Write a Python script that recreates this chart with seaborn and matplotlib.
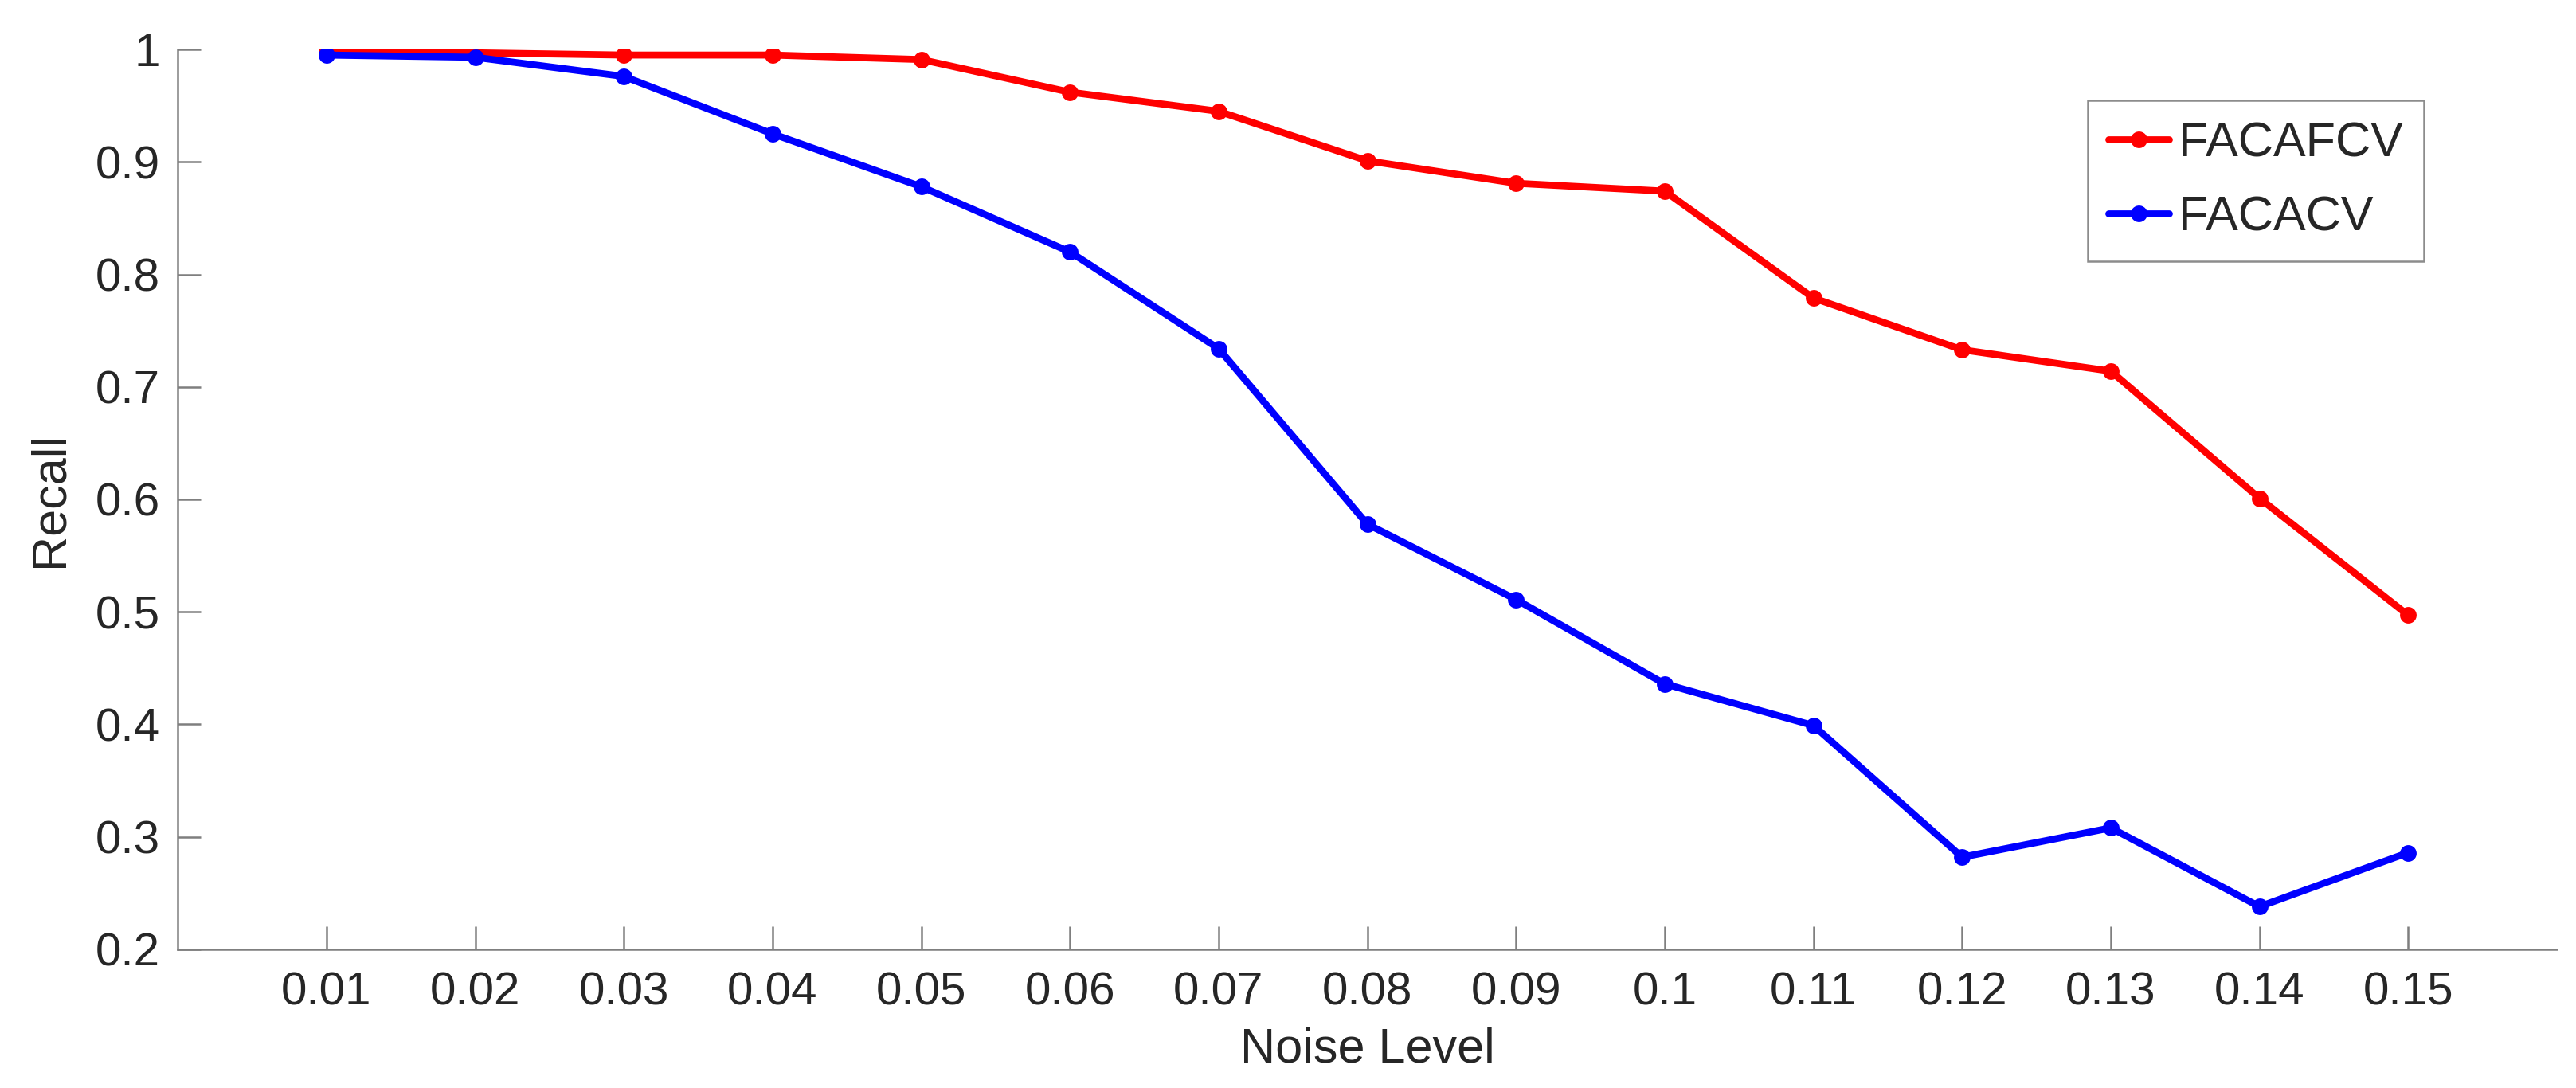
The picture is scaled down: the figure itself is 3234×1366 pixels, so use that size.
import numpy as np
import pandas as pd
import matplotlib
matplotlib.use("Agg")
import matplotlib.pyplot as plt
import seaborn as sns

# Данные
noise_levels = [0.01, 0.02, 0.03, 0.04, 0.05, 0.06, 0.07, 0.08,
                0.09, 0.10, 0.11, 0.12, 0.13, 0.14, 0.15]
tick_labels = ["0.01", "0.02", "0.03", "0.04", "0.05", "0.06", "0.07", "0.08",
               "0.09", "0.1", "0.11", "0.12", "0.13", "0.14", "0.15"]
recall_facafcv = [0.998, 0.997, 0.995, 0.995, 0.991, 0.962, 0.945, 0.901,
                  0.881, 0.874, 0.779, 0.733, 0.714, 0.601, 0.497]
recall_facacv = [0.995, 0.993, 0.976, 0.925, 0.878, 0.820, 0.734, 0.578,
                 0.511, 0.436, 0.399, 0.282, 0.308, 0.238, 0.286]
methods = ["FACAFCV", "FACACV"]
colors = {"FACAFCV": "#ff0000", "FACACV": "#0000ff"}

# Таблица в длинном формате для seaborn
df = pd.DataFrame({
    "Noise Level": noise_levels * 2,
    "Recall": recall_facafcv + recall_facacv,
    "Method": [methods[0]] * len(noise_levels) + [methods[1]] * len(noise_levels),
})

sns.set_theme(style="white")
plt.rcParams["font.family"] = ["Liberation Sans", "DejaVu Sans"]

fig = plt.figure(figsize=(32.34, 13.66), dpi=100)
ax = fig.add_axes([0.069, 0.1274, 0.9236, 0.8272])

sns.lineplot(data=df, x="Noise Level", y="Recall", hue="Method",
             hue_order=methods, palette=colors, marker="o", markersize=15,
             markeredgewidth=0, linewidth=6.3, ax=ax)

# Оси в стиле MATLAB: без рамки сверху и справа, засечки внутрь
ax.set_xlim(0, 0.16)
ax.set_ylim(0.2, 1.0)
ax.set_xticks(noise_levels)
ax.set_xticklabels(tick_labels)
yt = [0.2, 0.3, 0.4, 0.5, 0.6, 0.7, 0.8, 0.9, 1.0]
ax.set_yticks(yt)
ax.set_yticklabels(["0.2", "0.3", "0.4", "0.5", "0.6", "0.7", "0.8", "0.9", "1"])

for side in ["top", "right"]:
    ax.spines[side].set_visible(False)
for side in ["left", "bottom"]:
    ax.spines[side].set_color("#7f7f7f")
    ax.spines[side].set_linewidth(1.8)

ax.tick_params(axis="both", direction="in", length=21, width=1.8,
               color="#7f7f7f", labelsize=42, labelcolor="#262626",
               bottom=True, left=True)
ax.tick_params(axis="x", pad=20)
ax.tick_params(axis="y", pad=16)

ax.set_xlabel("Noise Level", fontsize=44, color="#262626", labelpad=11)
ax.set_ylabel("Recall", fontsize=44, color="#262626", labelpad=20)

leg = ax.legend(loc="upper right", bbox_to_anchor=(0.944, 0.943),
                borderaxespad=0, fontsize=44, frameon=True, fancybox=False,
                framealpha=1, edgecolor="#8c8c8c", handlelength=1.25,
                handletextpad=0.2, borderpad=0.42, labelspacing=0.6)
leg.get_frame().set_linewidth(1.8)
for line in leg.get_lines():
    line.set_linewidth(6.3)
    line.set_markersize(15)

fig.savefig("out.png", dpi=100, facecolor="white")
